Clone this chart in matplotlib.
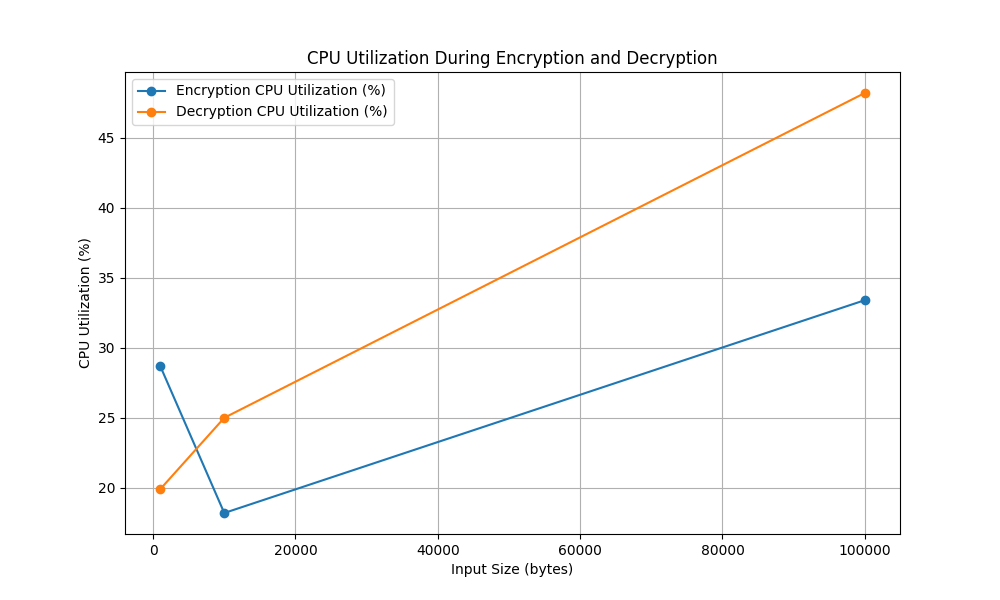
import matplotlib
matplotlib.use("Agg")
import matplotlib.pyplot as plt

input_sizes = [1000, 10000, 100000]
encryption_cpu = [28.7, 18.2, 33.4]
decryption_cpu = [19.9, 25.0, 48.2]

fig, ax = plt.subplots(figsize=(10, 6), dpi=100)
ax.plot(input_sizes, encryption_cpu, marker='o', label='Encryption CPU Utilization (%)')
ax.plot(input_sizes, decryption_cpu, marker='o', label='Decryption CPU Utilization (%)')
ax.set_title('CPU Utilization During Encryption and Decryption')
ax.set_xlabel('Input Size (bytes)')
ax.set_ylabel('CPU Utilization (%)')
ax.legend(loc='upper left')
ax.grid(True)
fig.savefig('out.png')
